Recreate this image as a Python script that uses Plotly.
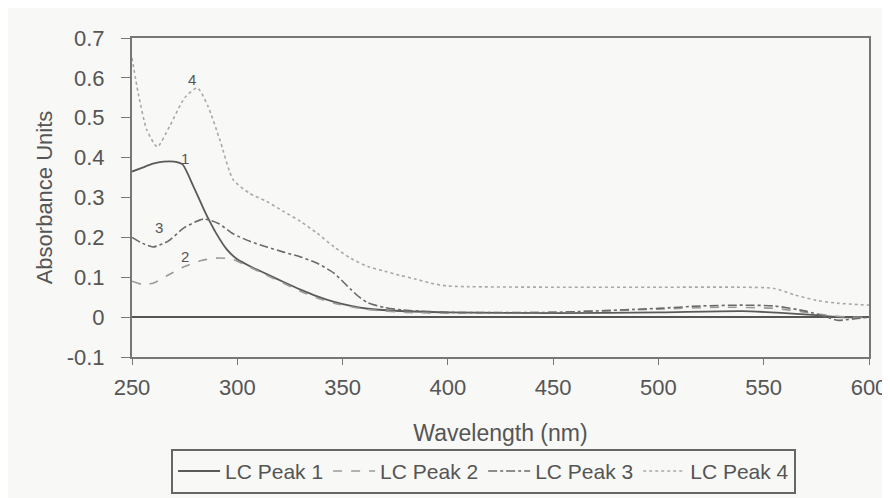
import plotly.graph_objects as go

# ---- data ----
wl1 = [250, 255, 260, 265, 270, 274, 279, 285, 290, 295, 300, 307, 314, 322, 330, 338, 346, 354, 362, 375, 400, 450, 500, 540, 560, 575, 585, 600]
p1 = [0.365, 0.375, 0.385, 0.39, 0.39, 0.383, 0.33, 0.26, 0.21, 0.17, 0.145, 0.125, 0.108, 0.088, 0.069, 0.052, 0.038, 0.028, 0.021, 0.016, 0.012, 0.01, 0.012, 0.015, 0.01, 0.005, 0.0, 0.0]

wl2 = [250, 255, 260, 267, 275, 283, 290, 297, 303, 314, 322, 330, 338, 346, 354, 362, 380, 400, 450, 500, 530, 555, 570, 580, 590, 600]
p2 = [0.09, 0.082, 0.085, 0.105, 0.127, 0.142, 0.148, 0.146, 0.133, 0.105, 0.085, 0.065, 0.048, 0.035, 0.026, 0.019, 0.012, 0.01, 0.012, 0.02, 0.025, 0.022, 0.012, 0.005, 0.0, 0.0]

wl3 = [250, 255, 260, 267, 275, 284, 291, 298, 306, 314, 322, 330, 338, 346, 350, 354, 358, 362, 370, 378, 400, 450, 500, 520, 540, 555, 570, 580, 585, 592, 600]
p3 = [0.2, 0.185, 0.176, 0.19, 0.225, 0.246, 0.235, 0.209, 0.19, 0.176, 0.163, 0.151, 0.135, 0.11, 0.09, 0.069, 0.05, 0.036, 0.024, 0.018, 0.012, 0.012, 0.022, 0.028, 0.03, 0.028, 0.015, 0.0, -0.008, -0.005, 0.0]

wl4 = [250, 253, 257, 262, 268, 275, 281, 286, 292, 298, 306, 314, 322, 330, 338, 346, 354, 362, 370, 377, 385, 392, 400, 450, 500, 540, 555, 565, 575, 585, 600]
p4 = [0.65, 0.56, 0.47, 0.427, 0.48, 0.55, 0.575, 0.53, 0.44, 0.345, 0.31, 0.29, 0.265, 0.24, 0.21, 0.176, 0.147, 0.127, 0.115, 0.105, 0.095, 0.085, 0.078, 0.075, 0.075, 0.075, 0.072, 0.055, 0.042, 0.035, 0.03]

names = ["LC Peak 1", "LC Peak 2", "LC Peak 3", "LC Peak 4"]
label_text = ["1", "2", "3", "4"]
label_x = [275, 275, 263, 278.5]
label_y = [0.398, 0.151, 0.225, 0.596]

x_ticks = [250, 300, 350, 400, 450, 500, 550, 600]
y_ticks = [-0.1, 0, 0.1, 0.2, 0.3, 0.4, 0.5, 0.6, 0.7]
y_tick_text = ["-0.1", "0", "0.1", "0.2", "0.3", "0.4", "0.5", "0.6", "0.7"]

series = [(wl1, p1), (wl2, p2), (wl3, p3), (wl4, p4)]
colors = ["#5a5a5a", "#9a9a9a", "#6a6a6a", "#a8a8a8"]
dashes = ["solid", "dash", "dashdot", "dot"]
widths = [1.8, 1.6, 1.6, 1.6]

fig = go.Figure()
for (x, y), n, c, d, w in zip(series, names, colors, dashes, widths):
    fig.add_trace(go.Scatter(x=x, y=y, name=n, mode="lines",
                             line=dict(color=c, dash=d, width=w, shape="spline", smoothing=0.6)))

for t, lx, ly in zip(label_text, label_x, label_y):
    fig.add_annotation(x=lx, y=ly, text=t, showarrow=False,
                       font=dict(size=15, color="#555555"))

font_fam = "Liberation Sans, Arial, sans-serif"
fig.update_layout(
    width=882, height=498,
    margin=dict(l=124, r=21, t=30, b=133),
    paper_bgcolor="#f8f8f6",
    plot_bgcolor="#f8f8f6",
    font=dict(family=font_fam, size=22, color="#555555"),
    showlegend=True,
    legend=dict(orientation="h", x=0.477, xanchor="center", y=-0.288, yanchor="top",
                bordercolor="#666666", borderwidth=2, bgcolor="#f8f8f6",
                font=dict(size=21, color="#555555"), itemwidth=42,
                tracegroupgap=0),
    xaxis=dict(range=[250, 600], tickvals=x_ticks, ticks="outside", ticklen=6,
               tickcolor="#777777", showline=True, linecolor="#777777", linewidth=2,
               mirror=True, showgrid=False, zeroline=False, automargin=False,
               ticklabelstandoff=4,
               title=dict(text="Wavelength (nm)", standoff=25, font=dict(size=23)),
               tickfont=dict(size=22)),
    yaxis=dict(range=[-0.1, 0.7], tickvals=y_ticks, ticktext=y_tick_text,
               ticks="outside", ticklen=9, tickcolor="#777777",
               showline=True, linecolor="#777777", linewidth=2, mirror=True,
               showgrid=False, zeroline=True, zerolinecolor="#555555", zerolinewidth=2,
               automargin=False, ticklabelstandoff=12,
               title=dict(text="Absorbance Units", standoff=8, font=dict(size=22)),
               tickfont=dict(size=22)),
)

fig.write_html("out.html")
